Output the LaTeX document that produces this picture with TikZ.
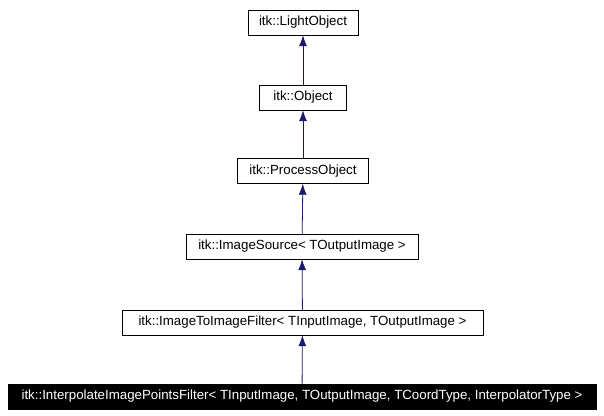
\documentclass[tikz,border=0pt]{standalone}
\usepackage{fontspec}
\setmainfont{Liberation Sans}
\usetikzlibrary{arrows.meta}
\definecolor{navy}{RGB}{25,25,112}
\begin{document}
\begin{tikzpicture}[x=1pt,y=-1pt,
  box/.style={draw=black,fill=white,minimum height=25pt,inner sep=0pt,font=\fontsize{13.3}{15}\selectfont},
  arr/.style={draw=navy,line width=0.8pt,-{Latex[length=11pt,width=8pt]}}]
\useasboundingbox (0,0) rectangle (604,415);
\node[box,minimum width=110pt] (a) at (303,22.5) {itk::LightObject};
\node[box,minimum width=87pt] (b) at (303,97.5) {itk::Object};
\node[box,minimum width=131pt] (c) at (303,171) {itk::ProcessObject};
\node[box,minimum width=232pt] (d) at (302,246.5) {itk::ImageSource< TOutputImage >};
\node[box,minimum width=361pt] (e) at (302.5,322.5) {itk::ImageToImageFilter< TInputImage, TOutputImage >};
\node[box,fill=black,text=white,minimum width=588pt] (f) at (302,396.5) {itk::InterpolateImagePointsFilter< TInputImage, TOutputImage, TCoordType, InterpolatorType >};
\draw[arr] (b) -- (a);
\draw[arr] (c) -- (b);
\draw[arr] (d) -- (c);
\draw[arr] (e) -- (d);
\draw[arr] (f) -- (e);
\end{tikzpicture}
\end{document}
